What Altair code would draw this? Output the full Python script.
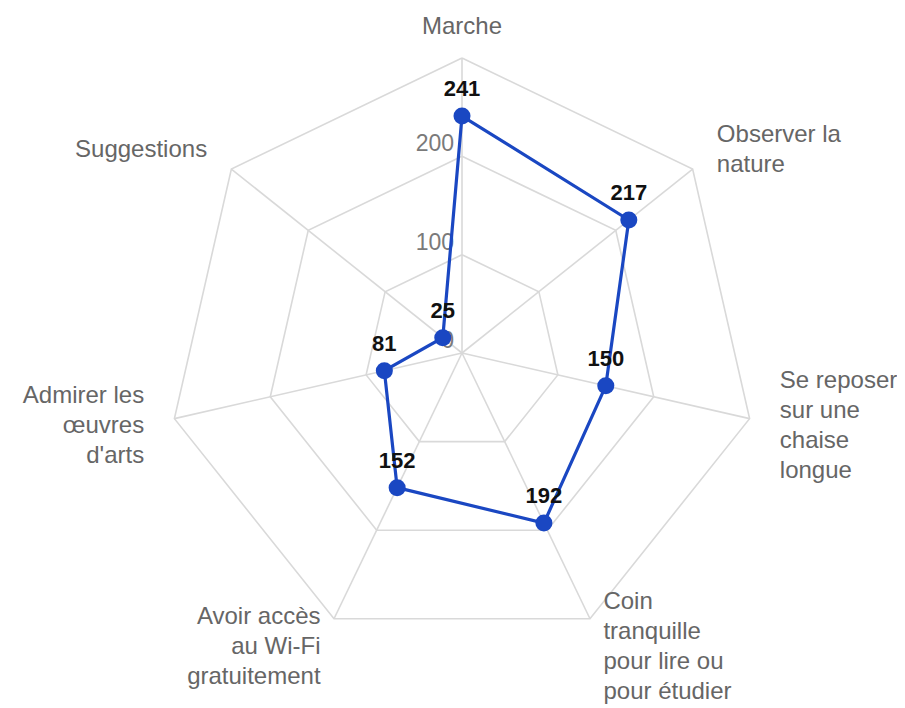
import math
import altair as alt
import pandas as pd

# ---- data ----
categories = [
    "Marche",
    "Observer la\nnature",
    "Se reposer\nsur une\nchaise\nlongue",
    "Coin\ntranquille\npour lire ou\npour étudier",
    "Avoir accès\nau Wi-Fi\ngratuitement",
    "Admirer les\nœuvres\nd'arts",
    "Suggestions",
]
values = [241, 217, 150, 192, 152, 81, 25]
ring_levels = [100, 200, 300]
tick_levels = [0, 100, 200]
tick_texts = ["0", "100", "200"]

# ---- geometry helpers (scale units = data units) ----
N = len(categories)
K = 0.9833          # px per data unit
W, H = 889, 697
CX, CY = 454, 345   # centre within the plot area (px)
xdom = [-CX / K, (W - CX) / K]
ydom = [-(H - CY) / K, CY / K]
LABEL_R = 300 + 31 / K
LINE_H = 30


def ang(i):
    return 2 * math.pi * i / N


rings = []
for lv in ring_levels:
    for j in range(N + 1):
        a = ang(j % N)
        rings.append({"ring": lv, "ord": j, "x": lv * math.sin(a), "y": lv * math.cos(a)})
rings = pd.DataFrame(rings)

outer = max(ring_levels)
spokes = pd.DataFrame([
    {"x0": 0.0, "y0": 0.0, "x": outer * math.sin(ang(i)), "y": outer * math.cos(ang(i))}
    for i in range(N)
])

series = []
for j in range(N + 1):
    i = j % N
    a = ang(i)
    series.append({"ord": j, "v": values[i], "lab": str(values[i]),
                   "x": values[i] * math.sin(a), "y": values[i] * math.cos(a)})
series = pd.DataFrame(series)
pts = series.iloc[:N]

cat_rows = []
for i, c in enumerate(categories):
    a = ang(i)
    s = math.sin(a)
    align = "left" if s > 0.1 else ("right" if s < -0.1 else "center")
    n_lines = c.count("\n") + 1
    # shift so the whole block is centred on the anchor
    shift = (n_lines - 1) / 2 * LINE_H / K
    cat_rows.append({"cat": c, "x": LABEL_R * s, "y": LABEL_R * math.cos(a) + shift, "align": align})
cats = pd.DataFrame(cat_rows)

ticks = pd.DataFrame({"x": [0.0] * len(tick_levels), "y": tick_levels, "t": tick_texts})

xs = alt.Scale(domain=xdom, nice=False, zero=False)
ys = alt.Scale(domain=ydom, nice=False, zero=False)
X = lambda f: alt.X(f, type="quantitative", scale=xs, axis=None)
Y = lambda f: alt.Y(f, type="quantitative", scale=ys, axis=None)

GRID = "#d9d9d9"
BLUE = "#1a47c2"
FONT = "Liberation Sans"

ring_layer = alt.Chart(rings).mark_line(color=GRID, strokeWidth=1.6).encode(
    x=X("x"), y=Y("y"), detail="ring:N", order="ord:Q")

spoke_layer = alt.Chart(spokes).mark_rule(color=GRID, strokeWidth=1.6).encode(
    x=X("x0"), y=Y("y0"), x2="x", y2="y")

tick_layer = alt.Chart(ticks).mark_text(
    align="right", baseline="middle", dx=-8, dy=-12, font=FONT, fontSize=23, color="#7a7a7a"
).encode(x=X("x"), y=Y("y"), text="t:N")

line_layer = alt.Chart(series).mark_line(color=BLUE, strokeWidth=3.2).encode(
    x=X("x"), y=Y("y"), order="ord:Q")

point_layer = alt.Chart(pts).mark_point(
    shape="circle", filled=True, size=290, color=BLUE, opacity=1
).encode(x=X("x"), y=Y("y"))

value_layer = alt.Chart(pts).mark_text(
    align="center", baseline="middle", dy=-27, font=FONT, fontSize=22, fontWeight="bold", color="#111111"
).encode(x=X("x"), y=Y("y"), text="lab:N")

cat_layers = []
for al in ["left", "right", "center"]:
    cat_layers.append(
        alt.Chart(cats[cats["align"] == al]).mark_text(
            align=al, baseline="middle", font=FONT, fontSize=24, color="#666666",
            lineBreak="\n", lineHeight=LINE_H
        ).encode(x=X("x"), y=Y("y"), text="cat:N")
    )

chart = alt.layer(
    ring_layer, spoke_layer, tick_layer, line_layer, point_layer, value_layer, *cat_layers
).properties(
    width=W, height=H, autosize=alt.AutoSizeParams(type="none"), padding=0
).configure_view(stroke=None)

chart.save("out.html", embed_options={"renderer": "svg", "actions": False})
